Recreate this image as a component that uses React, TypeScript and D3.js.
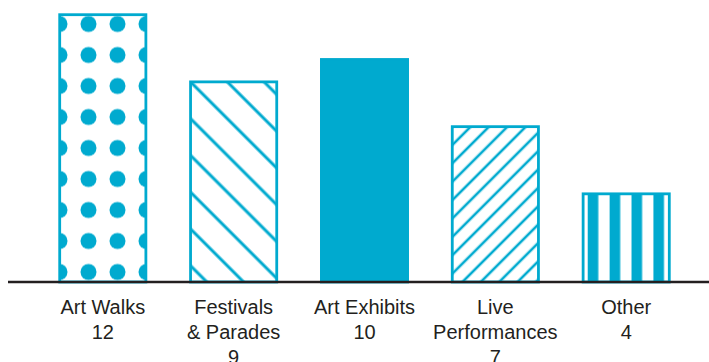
import React from "react";
import * as d3 from "d3";

const categories = ["Art Walks", "Festivals\n& Parades", "Art Exhibits", "Live\nPerformances", "Other"];
const values = [12, 9, 10, 7, 4];
const patterns = ["dots", "backslash", "solid", "slash", "vstripes"];

const W = 709;
const H = 362;
const BLUE = "#00AACF";
const TEXT = "#231f20";

export default function App() {
  const x = d3.scaleBand<string>().domain(categories).range([58.3, 670.7]).paddingInner(0.32).paddingOuter(0);
  const y = d3.scaleLinear().domain([0, 12]).range([282, 13.3]);
  const sw = 2.8;
  const baseY = y(0);

  return (
    <svg width={W} height={H} style={{ position: "absolute", left: 0, top: 0 }}>
      <defs>
        {categories.map((c, i) => {
          const bx = x(c)!;
          const by = y(values[i]);
          const p = patterns[i];
          const id = `pat${i}`;
          if (p === "dots") {
            const pw = 29, ph = 31;
            return (
              <pattern key={id} id={id} patternUnits="userSpaceOnUse" width={pw} height={ph}
                x={bx + 1.2 - pw / 2} y={by + 10.7 - ph / 2}>
                <circle cx={pw / 2} cy={ph / 2} r={8} fill={BLUE} />
              </pattern>
            );
          }
          if (p === "backslash" || p === "slash") {
            const s = p === "backslash" ? 26 : 13;
            const lw = p === "backslash" ? 3 : 2.6;
            const cx = bx + sw / 2, cy = by + sw / 2;
            const ang = p === "backslash" ? -45 : 45;
            return (
              <pattern key={id} id={id} patternUnits="userSpaceOnUse" width={s} height={s}
                x={cx} y={cy} patternTransform={`rotate(${ang} ${cx} ${cy})`}>
                <rect x={-lw / 2} y={0} width={lw} height={s} fill={BLUE} />
                <rect x={s - lw / 2} y={0} width={lw} height={s} fill={BLUE} />
              </pattern>
            );
          }
          if (p === "vstripes") {
            const pw = 21.9;
            return (
              <pattern key={id} id={id} patternUnits="userSpaceOnUse" width={pw} height={10}
                x={bx + 6} y={0}>
                <rect x={0} y={0} width={10.6} height={10} fill={BLUE} />
              </pattern>
            );
          }
          return null;
        })}
      </defs>

      {categories.map((c, i) => {
        const bx = x(c)!;
        const by = y(values[i]);
        const bw = x.bandwidth();
        const fill = patterns[i] === "solid" ? BLUE : `url(#pat${i})`;
        return (
          <rect key={c} x={bx + sw / 2} y={by + sw / 2} width={bw - sw} height={baseY - by - sw / 2}
            fill={fill} stroke={BLUE} strokeWidth={sw} />
        );
      })}

      <line x1={8} x2={W} y1={baseY} y2={baseY} stroke={TEXT} strokeWidth={2.5} />

      {categories.map((c, i) => {
        const cx = x(c)! + x.bandwidth() / 2;
        const lines = [...c.split("\n"), String(values[i])];
        return (
          <text key={c} x={cx} y={314} textAnchor="middle" fill={TEXT}
            style={{ fontFamily: "'Liberation Sans', Arial, sans-serif", fontSize: 20 }}>
            {lines.map((t, j) => (
              <tspan key={j} x={cx} y={314 + j * 25}>{t}</tspan>
            ))}
          </text>
        );
      })}
    </svg>
  );
}
